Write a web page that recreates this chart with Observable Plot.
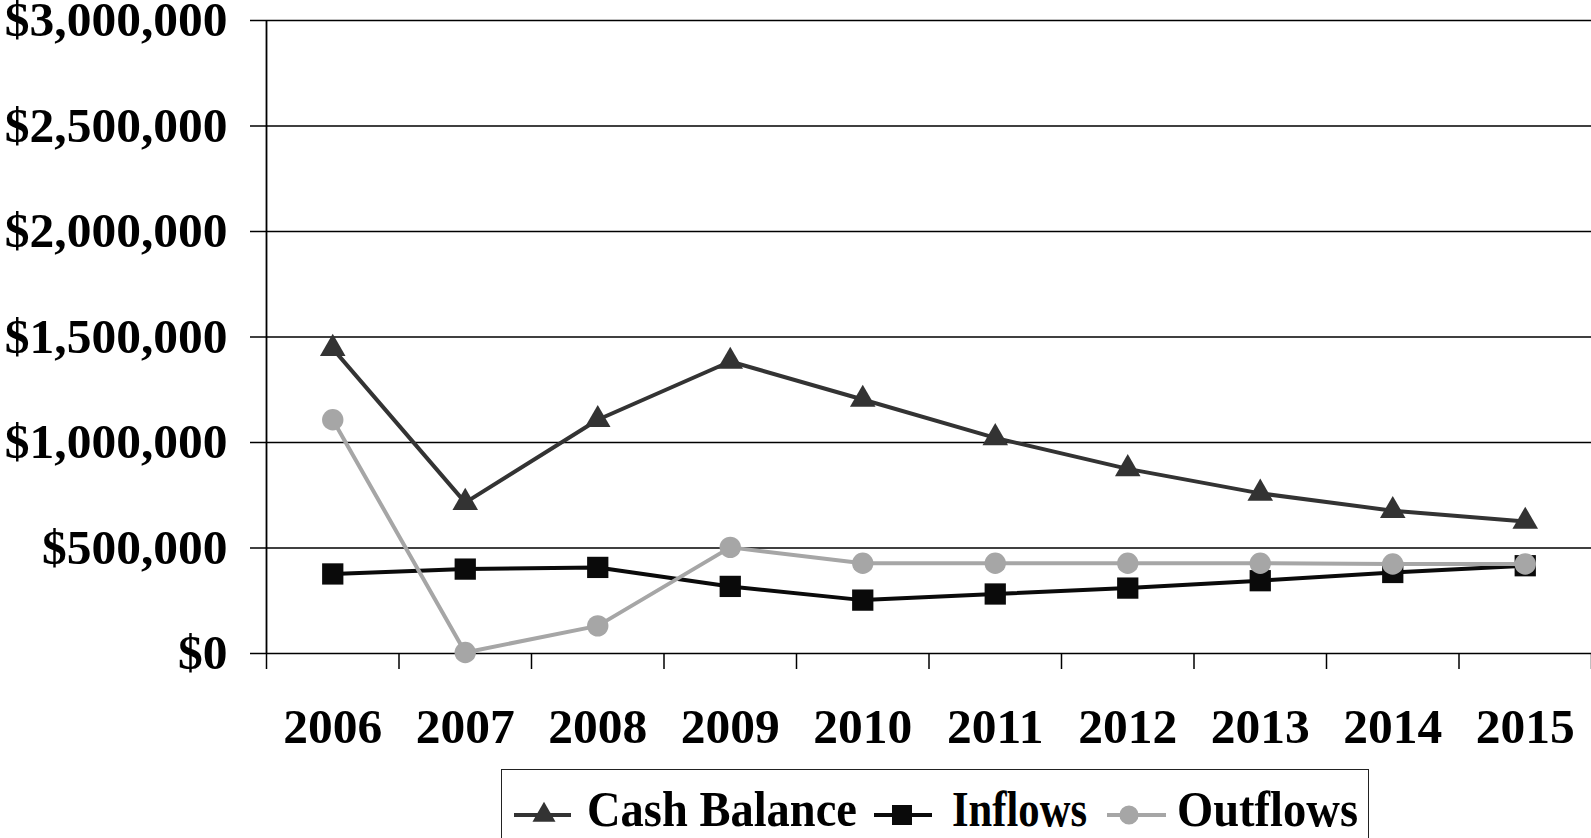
<!DOCTYPE html>
<html>
<head>
<meta charset="utf-8">
<script src="https://cdn.jsdelivr.net/npm/d3@7"></script>
<script src="https://cdn.jsdelivr.net/npm/@observablehq/plot@0.6"></script>
<style>
  html, body { margin: 0; padding: 0; background: #fff; overflow: hidden; }
  #wrap { position: relative; width: 1591px; height: 838px; }
  #chart { position: absolute; left: 0; top: 0; }
  #legend { position: absolute; left: 501px; top: 769px; width: 868px; height: 100px;
            border: 1.7px solid #222; box-sizing: border-box; background: #fff; }
  #legend svg { position: absolute; left: 0; top: 0; }
</style>
</head>
<body>
<div id="wrap">
  <div id="chart"></div>
  <div id="legend"></div>
</div>
<script>
// ---- data ----
const years = [2006, 2007, 2008, 2009, 2010, 2011, 2012, 2013, 2014, 2015];
const cashBalance = [1445000, 715000, 1108000, 1384000, 1204000, 1022000, 875000, 759000, 677000, 626000];
const inflows = [377000, 400000, 408000, 318000, 253000, 282000, 310000, 345000, 384000, 416000];
const outflows = [1108000, 5000, 131000, 503000, 428000, 428000, 428000, 428000, 424000, 424000];
const yTicks = [0, 500000, 1000000, 1500000, 2000000, 2500000, 3000000];
const seriesNames = ["Cash Balance", "Inflows", "Outflows"];

const toRows = vals => years.map((y, i) => ({year: y, value: vals[i]}));
const cashRows = toRows(cashBalance);
const inRows = toRows(inflows);
const outRows = toRows(outflows);
const boundaries = [years[0] - 0.5, ...years.map(y => y + 0.5)];

const C_CASH = "#333333", C_IN = "#0a0a0a", C_OUT = "#a6a6a6";
const FONT = "'Liberation Serif', 'Times New Roman', serif";

const plot = Plot.plot({
  width: 1591,
  height: 762,
  marginLeft: 266,
  marginRight: 0,
  marginTop: 20,
  marginBottom: 109,
  style: {fontFamily: FONT, fontSize: "49.5px", fontWeight: "bold", color: "#000", background: "#fff"},
  x: {type: "linear", domain: [years[0] - 0.5, years[years.length - 1] + 0.5]},
  y: {domain: [0, 3000000]},
  marks: [
    Plot.gridY({ticks: yTicks, stroke: "#000", strokeOpacity: 1, strokeWidth: 1.5}),
    Plot.axisY({ticks: yTicks, tickSize: 16, tickPadding: 23, tickFormat: d3.format("$,"),
                strokeWidth: 1.5, fontSize: 49.5, fontWeight: "bold", label: null}),
    Plot.ruleX([boundaries[0]], {stroke: "#000", strokeWidth: 1.8}),
    Plot.axisX({ticks: boundaries, tickSize: 16, tickFormat: () => "", strokeWidth: 1.5, label: null}),
    Plot.axisX({ticks: years, tickSize: 0, tickPadding: 54, tickFormat: d => String(d),
                fontSize: 49.5, fontWeight: "bold", label: null}),
    Plot.line(cashRows, {x: "year", y: "value", stroke: C_CASH, strokeWidth: 4}),
    Plot.dot(cashRows, {x: "year", y: "value", symbol: "triangle", r: 9.5, fill: C_CASH}),
    Plot.line(inRows, {x: "year", y: "value", stroke: C_IN, strokeWidth: 4}),
    Plot.dot(inRows, {x: "year", y: "value", symbol: "square", r: 12, fill: C_IN}),
    Plot.line(outRows, {x: "year", y: "value", stroke: C_OUT, strokeWidth: 4}),
    Plot.dot(outRows, {x: "year", y: "value", symbol: "circle", r: 10.7, fill: C_OUT})
  ]
});
document.getElementById("chart").appendChild(plot);

// ---- legend ----
const leg = d3.select("#legend").append("svg").attr("width", 868).attr("height", 100);
const items = [
  {name: seriesNames[0], color: C_CASH, sym: d3.symbolTriangle, size: 230, x0: 12, x1: 69, cx: 42, tx: 85, tl: 270},
  {name: seriesNames[1], color: C_IN, sym: d3.symbolSquare, size: 400, x0: 372, x1: 430, cx: 400, tx: 450, tl: 135},
  {name: seriesNames[2], color: C_OUT, sym: d3.symbolCircle, size: 290, x0: 605, x1: 664, cx: 627, tx: 675, tl: 181}
];
const ly = 45;
for (const it of items) {
  leg.append("line").attr("x1", it.x0).attr("x2", it.x1).attr("y1", ly).attr("y2", ly)
     .attr("stroke", it.color).attr("stroke-width", 4);
  leg.append("path").attr("d", d3.symbol(it.sym, it.size)())
     .attr("transform", `translate(${it.cx},${ly})`).attr("fill", it.color);
  leg.append("text").attr("x", it.tx).attr("y", 56)
     .attr("font-family", FONT).attr("font-weight", "bold").attr("font-size", 50)
     .attr("textLength", it.tl).attr("lengthAdjust", "spacingAndGlyphs")
     .attr("fill", "#000").text(it.name);
}
</script>
</body>
</html>
